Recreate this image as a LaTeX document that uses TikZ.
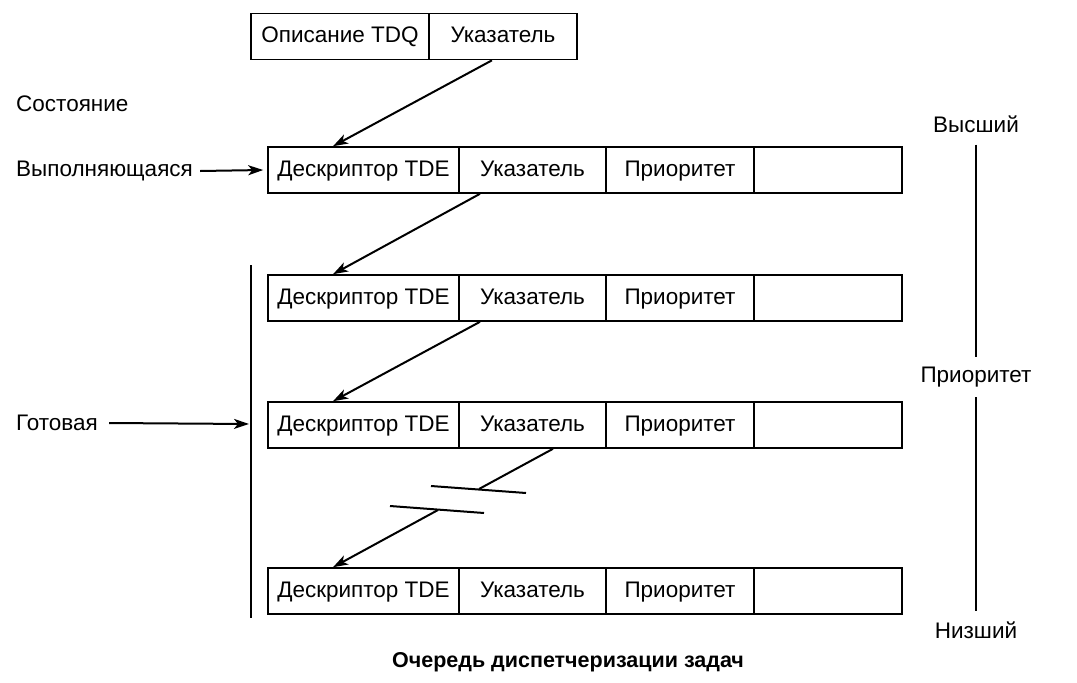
\documentclass[tikz,border=0pt]{standalone}
\usepackage{fontspec}
\setmainfont{Liberation Sans}
\usetikzlibrary{arrows.meta}
\begin{document}
\begin{tikzpicture}[x=1pt,y=-1pt,
  txt/.style={font=\fontsize{22.5}{26}\selectfont, inner sep=2pt},
  cell/.style={draw, line width=1.6pt, minimum height=46pt, inner sep=0pt, text height=16pt, text depth=4pt, font=\fontsize{22.5}{26}\selectfont},
  ln/.style={line width=2pt},
  arr/.style={line width=2pt, -{Stealth[length=15pt,width=10pt,inset=4pt]}}]
\useasboundingbox (0,0) rectangle (1077,683);
% top TDQ
\node[cell, minimum width=178pt] (t1) at (340,36.5) {Описание TDQ};
\node[cell, minimum width=148pt] (t2) at (503,36.5) {Указатель};
% rows
\foreach \r/\y in {1/170, 2/298, 3/425, 4/591}{
  \node[cell, minimum width=191pt] (r\r a) at (363.5,\y) {Дескриптор TDE};
  \node[cell, minimum width=147pt] (r\r b) at (532.5,\y) {Указатель};
  \node[cell, minimum width=148pt] (r\r c) at (680,\y) {Приоритет};
  \node[cell, minimum width=148pt] (r\r d) at (828,\y) {};
}
% pointer arrows
\draw[arr] ([xshift=-11pt]t2.south) -- ([xshift=-30.5pt]r1a.north);
\draw[arr] ([xshift=-52.5pt]r1b.south) -- ([xshift=-30.5pt]r2a.north);
\draw[arr] ([xshift=-52.5pt]r2b.south) -- ([xshift=-30.5pt]r3a.north);
\coordinate (b1) at (479,489);
\coordinate (b2) at (438,510);
\draw[ln] ([xshift=20.5pt]r3b.south) -- (b1);
\draw[arr] (b2) -- ([xshift=-30.5pt]r4a.north);
\draw[ln] (431,486) -- (526,493);
\draw[ln] (390,506) -- (484,513);
% left labels
\node[txt, anchor=west] (state) at (14,104) {Состояние};
\node[txt, anchor=west] (exec) at (14,171) {Выполняющаяся};
\node[txt, anchor=west] (ready) at (14,423) {Готовая};
\coordinate (bartop) at (251,265);
\coordinate (barbot) at (251,618);
\coordinate (bar) at (251,424);
\draw[ln] (bartop) -- (barbot);
\draw[arr] ([xshift=5pt]exec.east) -- ([xshift=-4pt]r1a.west);
\draw[arr] ([xshift=9pt]ready.east) -- ([xshift=-2pt]bar);
% right scale
\node[txt] (high) at (976,124) {Высший};
\node[txt] (prio) at (976,377) {Приоритет};
\node[txt] (low) at (976,630) {Низший};
\draw[ln] ([yshift=-10pt]high.south) -- ([yshift=8pt]prio.north);
\draw[ln] ([yshift=-8pt]prio.south) -- ([yshift=8pt]low.north);
% caption
\node[font=\bfseries\fontsize{21.5}{25}\selectfont] (cap) at (568,662) {Очередь диспетчеризации задач};
\end{tikzpicture}
\end{document}
